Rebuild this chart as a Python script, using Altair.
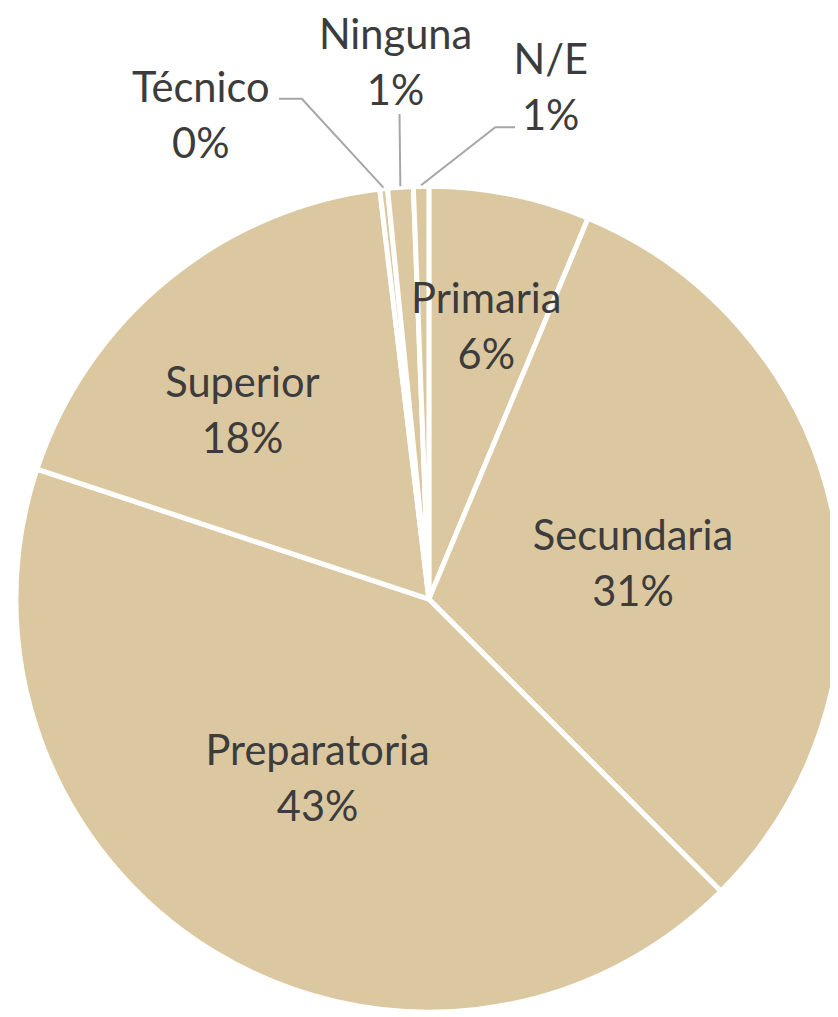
import math
import altair as alt
import pandas as pd

# ---- data ----
categories = ["Primaria", "Secundaria", "Preparatoria", "Superior", "Técnico", "Ninguna", "N/E"]
values = [6.3, 31.2, 42.6, 18.0, 0.3, 1.0, 0.6]

# ---- layout / style ----
W, H = 830, 1009
CX, CY = 425, 592          # pie centre inside the view
R = 417                    # outer radius
FILL = "#DCC8A0"
TEXT = "#3C3C3C"
LEADER = "#A6A6A6"
FONT = "Lato"
FS = 42

# label placement: (angle shift from slice mid-angle in degrees, radius)
label_pos = {
    "Primaria": (0.6, 280),
    "Secundaria": (1.5, 209),
    "Preparatoria": (0.0, 214),
    "Superior": (-5.6, 267),
    "Técnico": (-19.0, 539),
    "Ninguna": (0.4, 542),
    "N/E": (14.5, 530),
}
# leader lines: elbow offset from label centre and horizontal tail
leader_pos = {
    "Técnico": (102, -18, -23),
    "Ninguna": (4, 51, 0),
    "N/E": (-56, 39, 20),
}

total = sum(values)
rows, lrows = [], []
cum = 0.0
for i, (c, v) in enumerate(zip(categories, values)):
    mid = (cum + v / 2) / total * 360.0
    cum += v
    shift, r = label_pos[c]
    a = math.radians(mid + shift)
    lx = CX + r * math.sin(a)
    ly = CY - r * math.cos(a)
    rows.append({"cat": c, "value": v, "idx": i, "lx": lx, "ly": ly,
                 "pct": f"{round(v / total * 100)}%"})
    if c in leader_pos:
        ex, ey, tail = leader_pos[c]
        am = math.radians(mid)
        sx = CX + (R + 1) * math.sin(am)
        sy = CY - (R + 1) * math.cos(am)
        pts = [(sx, sy), (lx + ex, ly + ey), (lx + ex + tail, ly + ey)]
        for k, (px, py) in enumerate(pts):
            lrows.append({"cat": c, "seq": k, "px": px, "py": py})

df = pd.DataFrame(rows)
ldf = pd.DataFrame(lrows)

arc = alt.Chart(df).mark_arc(outerRadius=R, stroke="white", strokeWidth=5, fill=FILL).encode(
    theta=alt.Theta("value:Q", stack=True),
    order=alt.Order("idx:Q"),
    x=alt.value(CX),
    y=alt.value(CY),
)

leaders = alt.Chart(ldf).mark_line(color=LEADER, strokeWidth=2).encode(
    x=alt.X("px:Q", scale=None, axis=None),
    y=alt.Y("py:Q", scale=None, axis=None),
    detail="cat:N",
    order="seq:Q",
)

names = alt.Chart(df).mark_text(font=FONT, fontSize=FS, color=TEXT, baseline="middle", dy=-28).encode(
    x=alt.X("lx:Q", scale=None, axis=None),
    y=alt.Y("ly:Q", scale=None, axis=None),
    text="cat:N",
)
pcts = alt.Chart(df).mark_text(font=FONT, fontSize=FS, color=TEXT, baseline="middle", dy=29).encode(
    x=alt.X("lx:Q", scale=None, axis=None),
    y=alt.Y("ly:Q", scale=None, axis=None),
    text="pct:N",
)

chart = alt.layer(arc, leaders, names, pcts).properties(
    width=W, height=H, padding=0,
    autosize=alt.AutoSizeParams(type="none"),
).configure_view(stroke=None)

chart.save("out.html", embed_options={"renderer": "svg", "actions": False})
